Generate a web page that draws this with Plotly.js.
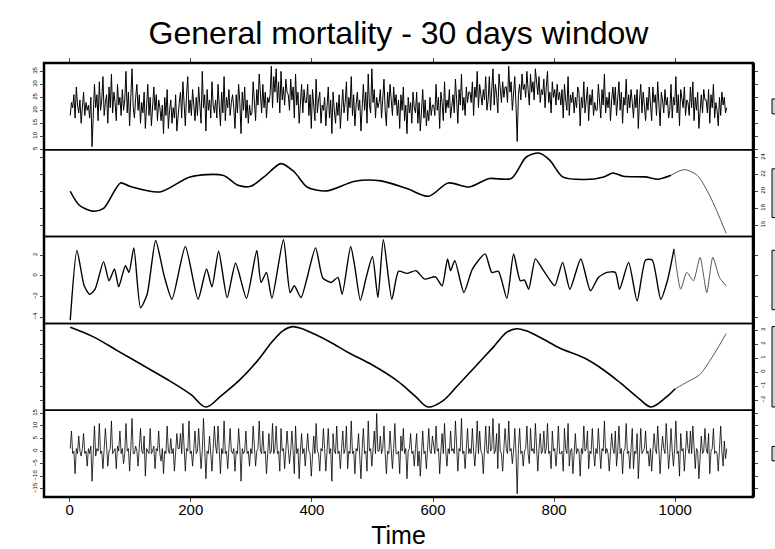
<!DOCTYPE html>
<html><head><meta charset="utf-8">
<script src="https://cdn.plot.ly/plotly-3.0.1.min.js"></script>
<style>html,body{margin:0;padding:0;background:#fff}#chart{width:775px;height:549px}</style>
</head><body><div id="chart"></div>
<script>
const chartTitle = 'General mortality - 30 days window';
const xTitle = 'Time';
const startDay = 1, dayStep = 2;

// panel 1: observed series (every 2nd day)
const observed = [
18,23,21,26,17,29,22,19,24,15,21,27,18,23,20,
22,17,25,6,19,30,21,26,16,31,20,24,33,18,23,
26,15,29,21,34,19,27,23,16,30,22,25,18,28,20,
24,35,19,27,14,28,36,21,17,25,30,20,26,15,23,
19,27,13,23,30,18,25,14,22,29,20,26,16,24,21,
16,22,11,25,18,28,13,20,24,15,21,17,26,12,19,
23,27,17,31,20,14,26,33,19,24,18,28,22,16,25,
18,29,23,15,35,21,26,12,28,20,24,17,31,22,19,
24,17,30,22,14,27,19,33,16,25,21,28,18,23,26,
21,13,26,19,30,23,11,27,20,29,17,24,15,22,18,
19,31,24,16,28,22,34,26,19,30,21,27,17,25,23,
26,37,21,33,27,36,23,31,19,35,24,29,22,32,27,
26,20,32,24,29,17,34,22,27,15,25,30,19,28,23,
23,30,18,26,13,28,21,16,32,19,24,27,15,22,20,
25,14,22,29,17,24,11,27,20,15,23,18,26,13,21,
28,19,23,31,16,25,21,33,18,26,14,22,27,20,24,
12,24,30,20,27,15,34,22,19,36,23,28,17,25,21,
23,28,17,25,32,20,14,27,21,30,24,18,29,22,26,
18,24,13,26,20,29,16,22,11,25,19,23,15,27,21,
19,27,15,23,12,21,28,17,24,14,20,16,25,18,22,
22,18,30,20,25,13,27,23,16,31,19,24,21,28,17,
21,26,19,32,24,15,28,22,34,20,25,18,29,23,27,
27,23,31,18,29,25,35,21,30,26,22,28,24,33,20,
24,33,20,28,36,22,30,26,19,34,27,23,31,25,29,
29,23,37,27,31,20,25,33,22,8,26,30,24,34,28,
30,25,35,28,22,34,27,31,24,36,29,26,33,23,28,
26,32,21,29,35,23,27,19,31,25,28,22,30,24,27,
22,28,17,30,24,20,33,18,26,23,27,19,25,21,29,
27,14,25,21,31,19,24,29,16,26,22,28,18,23,20,
20,30,23,17,28,22,34,19,25,21,27,16,24,29,22,
29,18,24,31,20,27,15,25,22,32,19,26,21,28,23,
17,26,21,28,13,24,30,19,27,22,16,25,20,29,23,
16,29,23,26,18,31,21,14,27,24,19,28,22,25,17,
20,30,17,25,22,33,19,26,14,28,23,21,29,18,24,
23,18,29,21,31,16,25,20,27,13,22,26,19,28,24,
24,19,28,15,26,21,30,17,23,20,14,25,18,27,22,
25,19,21];

// panel 5: remainder (every 2nd day)
const remainder = [
1,8,-1,0,-9,1,-1,6,0,-2,1,7,-1,0,-6,
1,-1,2,-12,0,10,-2,1,0,11,-1,0,-7,1,9,
2,-6,0,1,12,-1,0,1,-7,2,0,8,-1,1,-5,
-1,11,0,1,-8,1,13,-1,-1,2,0,-6,1,9,0,
-1,6,-10,1,0,-1,9,-1,0,2,-7,1,0,8,-1,
-4,1,-9,0,-1,10,0,-1,5,-1,1,-8,0,7,1,
1,7,-1,11,0,-8,1,0,12,-1,0,-6,1,8,-1,
0,9,1,-7,0,13,1,-11,0,-1,6,0,-8,1,10,
2,-1,10,0,-9,1,-1,12,-1,0,-7,1,9,0,-1,
1,-8,0,-1,9,2,-12,1,-1,0,8,-1,0,-6,1,
-1,10,1,-6,0,1,12,0,-1,8,-1,0,-9,1,7,
-1,0,11,-1,1,10,-1,0,-8,9,0,1,-7,0,8,
1,-5,0,8,0,-9,10,-1,1,-11,0,7,-1,1,-6,
1,7,0,-1,-10,1,6,-1,11,0,-1,-8,1,0,9,
1,-8,0,9,-1,1,-12,7,0,-1,10,-1,0,-7,1,
8,-1,1,10,-7,0,-1,12,-1,0,-9,1,0,7,-1,
-11,1,9,-1,0,-8,12,0,1,-6,0,8,-1,15,0,
0,6,-1,1,10,-1,-9,0,-1,8,0,-7,1,11,-1,
-1,0,-9,6,0,9,-1,1,-11,0,1,7,-1,0,-6,
1,7,-6,0,-10,1,8,-1,0,-7,1,9,0,-1,6,
1,-1,10,0,1,-9,0,7,-1,11,0,-6,1,-1,8,
0,1,-1,12,0,-8,1,0,13,-1,0,-7,1,9,-1,
1,-1,9,0,-6,1,12,-1,8,0,-1,-9,1,10,0,
-1,10,0,1,13,-1,0,7,-7,11,0,-1,-8,1,9,
1,-1,12,0,1,-5,0,9,-1,-17,1,9,-1,0,-6,
0,1,10,-1,-5,9,0,1,-1,11,0,-8,1,7,-1,
0,8,-1,1,11,-1,0,-7,8,0,1,-6,0,10,-1,
-1,0,-8,9,1,-1,11,-6,0,1,-9,0,7,-1,1,
0,-10,1,-1,10,0,1,8,-7,0,-1,9,0,-6,1,
-1,9,0,-7,1,0,12,-1,1,-1,-8,0,7,1,-1,
8,-6,0,10,-1,1,-9,0,1,11,-1,0,-7,1,9,
-7,0,-1,7,-11,1,9,-1,0,1,8,-1,0,-6,1,
-8,0,7,1,-1,10,-1,-9,0,6,1,-1,11,0,-7,
-1,9,0,-6,1,12,-1,0,-10,7,0,1,-8,1,8,
1,-1,8,-1,10,0,-7,1,0,-11,1,6,-1,0,9,
1,-1,7,-9,0,1,9,-1,0,-1,-8,1,10,0,-6,
4,-3,1];

// panel 2: trend
const trendT = [1,16,38,56,84,99,149,199,253,278,299,321,349,371,392,424,471,514,557,593,625,660,693,729,754,775,793,814,850,882,897,914,950,972,993];
const trendV = [20.0,18.35,17.65,17.97,20.98,20.59,19.92,21.69,21.88,20.7,20.59,21.69,23.26,22.27,20.5,20.04,21.18,21.22,20.32,19.41,20.98,20.51,21.5,21.5,24.04,24.51,23.65,21.69,21.38,21.69,22.16,21.77,21.69,21.42,21.88];
const trendTailT = [993,1015,1036,1058,1084];
const trendTailV = [21.88,22.55,21.88,19.33,15.03];

// panel 3: fast cycle
const cycleT = [1,12,24,33,42,56,65,74,81,92,98,106,117,128,142,156,169,191,212,226,235,246,260,274,292,309,316,325,334,353,364,371,382,406,418,432,443,450,464,471,480,489,500,509,518,532,543,557,572,586,604,615,624,629,636,651,665,686,697,708,722,733,744,751,758,769,779,790,801,814,826,844,860,873,887,901,908,923,937,951,962,976,987,998];
const cycleV = [-4.3,2.44,-0.97,-1.79,-1.3,1.37,-0.48,0.65,-1.07,0.98,0.33,2.7,-3.09,-1.79,3.42,0.0,-2.27,2.83,-2.27,0.65,-1.07,2.38,-2.11,1.21,-2.18,2.44,-0.65,0.33,-2.18,3.48,-1.62,-0.97,-2.11,2.7,-0.22,-0.65,-0.16,-1.79,2.83,0.82,-2.37,-0.32,1.86,-2.11,3.48,-2.27,0.43,0.23,0.49,-0.32,-0.1,-0.97,1.63,0.49,1.47,-1.62,0.65,2.12,0.33,0.43,-2.18,2.12,-0.48,-0.42,-1.3,1.63,0.82,-0.16,-0.97,1.3,-1.3,1.63,-1.46,-0.16,0.33,0.33,-1.3,1.3,-2.44,1.53,1.53,-2.27,-0.48,2.6];
const cycleTailT = [998,1009,1019,1030,1041,1052,1062,1073,1084];
const cycleTailV = [2.6,-1.3,0.33,-0.48,1.79,-1.62,1.79,-0.16,-0.97];

// panel 4: slow wave
const waveT = [1,40,80,120,160,200,225,250,280,310,335,352,368,384,405,430,460,500,540,570,592,615,640,670,700,722,738,754,780,810,850,880,910,940,960,985,1000];
const waveV = [3.2,2.5,1.5,0.5,-0.5,-1.6,-2.5,-1.7,-0.6,0.8,2.2,2.95,3.25,3.1,2.7,2.15,1.4,0.5,-0.6,-1.7,-2.5,-2.1,-1.0,0.4,1.8,2.85,3.1,2.95,2.4,1.7,1.0,0.2,-0.8,-1.9,-2.5,-1.8,-1.2];
const waveTailT = [1000,1020,1040,1060,1084];
const waveTailV = [-1.2,-0.7,-0.2,1.0,2.75];

const xTicks = [0,200,400,600,800,1000];
const yTicks1 = [5,10,15,20,25,30,35];
const yTicks2 = [16,18,20,22,24];
const yTicks3 = [-4,-2,0,2];
const yTicks4 = [-2,-1,0,1,2,3];
const yTicks5 = [-15,-10,-5,0,5,10,15];

const obsDays = observed.map((_, i) => startDay + i * dayStep);
const remDays = remainder.map((_, i) => startDay + i * dayStep);
const FONT = 'Liberation Sans, Arial, sans-serif';

function extRange(arr) {
  const lo = Math.min(...arr), hi = Math.max(...arr);
  const d = (hi - lo) * 0.04;
  return [lo - d, hi + d];
}
const panels = [
  {all: observed, ticks: yTicks1, side:'left'},
  {all: trendV.concat(trendTailV), ticks: yTicks2, side:'right'},
  {all: cycleV.concat(cycleTailV), ticks: yTicks3, side:'left'},
  {all: waveV.concat(waveTailV), ticks: yTicks4, side:'right'},
  {all: remainder, ticks: yTicks5, side:'left'}
];
const barH = Math.min(...panels.map(p => Math.max(...p.all) - Math.min(...p.all)));

const traces = [
  {x: [obsDays[0]], y: [null], xaxis:'x2', yaxis:'y', mode:'lines'},
  {x: obsDays, y: observed, xaxis:'x', yaxis:'y', mode:'lines', line:{color:'#000', width:1}},
  {x: trendT, y: trendV, xaxis:'x', yaxis:'y2', mode:'lines', line:{color:'#000', width:1.6, shape:'spline', smoothing:0.8}},
  {x: trendTailT, y: trendTailV, xaxis:'x', yaxis:'y2', mode:'lines', line:{color:'#555', width:1, shape:'spline', smoothing:0.8}},
  {x: cycleT, y: cycleV, xaxis:'x', yaxis:'y3', mode:'lines', line:{color:'#000', width:1.4, shape:'spline', smoothing:0.6}},
  {x: cycleTailT, y: cycleTailV, xaxis:'x', yaxis:'y3', mode:'lines', line:{color:'#555', width:1, shape:'spline', smoothing:0.6}},
  {x: waveT, y: waveV, xaxis:'x', yaxis:'y4', mode:'lines', line:{color:'#000', width:1.6, shape:'spline', smoothing:1}},
  {x: waveTailT, y: waveTailV, xaxis:'x', yaxis:'y4', mode:'lines', line:{color:'#555', width:1, shape:'spline', smoothing:0.8}},
  {x: remDays, y: remainder, xaxis:'x', yaxis:'y5', mode:'lines', line:{color:'#000', width:0.8}}
];
traces.forEach(t => { t.showlegend = false; t.hoverinfo = 'skip'; });

const xr = extRange(obsDays);
const layout = {
  width: 775, height: 549,
  margin: {l:44, r:22, t:63, b:52},
  paper_bgcolor:'#fff', plot_bgcolor:'rgba(0,0,0,0)',
  showlegend: false,
  font: {family: FONT, color:'#000'},
  title: {text: chartTitle, x: 0.5, xref:'paper', y: 1 - 33/549, yref:'container', yanchor:'middle',
          font: {family: FONT, size: 32, color:'#000'}},
  xaxis: {range: xr, anchor:'y5', domain:[0,1], tickvals: xTicks, ticks:'outside', ticklen:4, tickwidth:1,
          ticklabelstandoff: -5,
          showgrid:false, zeroline:false, showline:false, tickfont:{family:FONT, size:15},
          title:{text: xTitle, font:{family:FONT, size:25}, standoff: 9}},
  xaxis2: {matches:'x', overlaying:'x', range: xr, anchor:'y', side:'top', tickvals: xTicks, ticks:'outside', ticklen:4, tickwidth:1,
          showticklabels:false, showgrid:false, zeroline:false, showline:false},
  shapes: []
};
panels.forEach((p, k) => {
  const key = k === 0 ? 'yaxis' : 'yaxis' + (k + 1);
  const r = extRange(p.all);
  layout[key] = {
    domain: [1 - (k + 1) / 5, 1 - k / 5], anchor:'x', range: r, side: p.side,
    tickvals: p.ticks, ticks:'outside', ticklen:3, tickwidth:1, mirror:'ticks',
    showline:true, linewidth:1.5, linecolor:'#000', showgrid:false, zeroline:false,
    tickangle:-90, tickfont:{family:FONT, size:6, color:'#000'}
  };
  const dref = (k === 0 ? 'y' : 'y' + (k + 1));
  layout.shapes.push({type:'rect', xref:'paper', yref: dref + ' domain', x0:0, x1:1, y0:0, y1:1,
                      line:{color:'#000', width:1.5}});
  const mid = (Math.max(...p.all) + Math.min(...p.all)) / 2;
  layout.shapes.push({type:'rect', xref:'paper', yref: dref, x0:1.0268, x1:1.05,
                      y0: mid - barH / 2, y1: mid + barH / 2,
                      line:{color:'#000', width:1}, fillcolor:'#d3d3d3'});
});
layout.shapes.push({type:'rect', xref:'paper', yref:'paper', x0:0, x1:1, y0:0, y1:1, line:{color:'#000', width:2.5}});

Plotly.newPlot('chart', traces, layout, {staticPlot:true, displayModeBar:false});
</script></body></html>
